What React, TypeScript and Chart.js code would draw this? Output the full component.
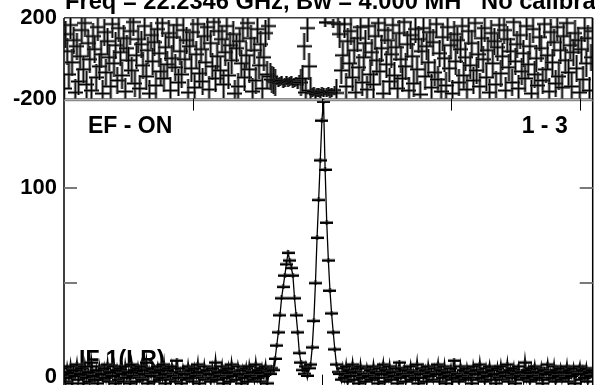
import React, { useEffect, useRef } from 'react';
import { Chart, registerables } from 'chart.js';

Chart.register(...registerables);

const titleText = 'Freq = 22.2346 GHz, Bw = 4.000 MH   No calibra';
const sourceLabel = 'EF - ON';
const scanLabel = '1 - 3';
const ifLabel = 'IF 1(LR)';

const phaseTicks = [-200, 0, 200];
const phaseTickLabels = ['-200', '', '200'];
const ampTicks = [0, 50, 100];
const ampTickLabels = ['0', '', '100'];
const channelTicks = [80, 160, 240, 320];

// amplitude, channels 0..129
const ampNoiseLeft = [
  3, -2, 5, 0, 6, -3, 4, 1, 7, -1, 2, 5, -3, 6, 0, 3, -2, 8, 1, -1,
  4, -3, 6, 2, -1, 5, 0, 7, -2, 3, 1, 6, -3, 4, -1, 5, 2, -2, 6, 0,
  3, -3, 7, 1, 4, -2, 5, 0, 6, -1, 2, 8, -3, 4, 1, 5, -2, 3, 6, -1,
  4, 0, 7, -3, 2, 5, -1, 6, 1, -2, 9, 0, 3, -3, 5, 2, -1, 6, 0, 4,
  -2, 5, 1, 7, -3, 3, 0, 6, -1, 4, 2, -2, 5, 0, 8, -1, 3, 1, 6, -3,
  4, 0, 5, -2, 7, 1, 3, -1, 6, 2, -3, 4, 0, 5, -2, 6, 1, 3, -1, 7,
  0, 4, -2, 5, 1, 6, -3, 3, 2, 5,
];
// channels 130..148
const ampLine1 = [4, 10, 17, 24, 33, 42, 48, 54, 60, 66, 62, 58, 54, 42, 33, 24, 13, 8, 4];
// channels 149..152
const ampGap = [2, 6, 1, 5];
// channels 153..170
const ampLine2 = [7, 16, 30, 50, 74, 94, 115, 136, 146, 110, 82, 62, 46, 34, 24, 15, 7, 3];
// channels 171..328
const ampNoiseRight = [
  2, -1, 5, 0, 6, -2, 4, 1, 7, -1, 3, 5, -3, 6, 0, 2, -2, 5, 1, 4,
  -1, 6, 0, 3, -3, 5, 2, 7, -2, 4, 0, 6, -1, 3, 1, 5, -3, 8, 0, 2,
  5, -2, 4, 1, 6, -1, 3, 0, 7, -3, 2, 5, 0, 4, -2, 6, 1, 3, -1, 5,
  2, 7, -2, 4, 0, 6, -3, 3, 1, 5, -1, 9, 0, 2, -2, 6, 1, 4, -1, 5,
  0, 3, -3, 6, 2, 4, -1, 7, 0, 3, -2, 5, 1, 6, -1, 4, 2, -3, 5, 0,
  6, -1, 3, 1, 7, -2, 4, 0, 5, -3, 2, 6, 1, 3, -1, 8, 0, 4, -2, 5,
  1, 6, -1, 3, 0, 5, -3, 4, 2, 7, -1, 3, 0, 6, -2, 4, 1, 5, -1, 3,
  0, 6, -2, 4, 1, 5, -3, 3, 2, 6, -1, 4, 0, 5, -2, 3, 1, 4,
];

// phase (degrees), channels 0..127
const phaseLeft = [
  -150, 120, 35, -80, 165, -20, 90, -170, 60, -115, 10, 140, -55, 175, -130, 75, -5, -160, 110, 45,
  -95, 155, -40, 20, -175, 130, -70, 85, 5, -140, 170, -25, 65, -110, 150, 30, -85, 100, -165, 50,
  -10, 135, -60, 180, -125, 15, 95, -150, 70, -35, 160, -90, 40, -175, 115, -15, 80, -135, 145, 25,
  -65, 175, -100, 55, -30, 125, -160, 0, 105, -45, 165, -120, 35, -80, 140, -5, 90, -170, 60, -50,
  130, -145, 20, 170, -75, 45, -115, 110, -20, 155, -155, 75, -40, 180, -100, 10, 135, -60, 95, -130,
  30, 160, -85, 65, -10, 120, -175, 50, -140, 85, -25, 150, -95, 15, 175, -55, 100, -165, 40, -110,
  145, -35, 70, -150, 5, 125, -80, 160,
];
// channels 128..148
const phaseLine1 = [-90, -105, -112, -118, -108, -122, -115, -110, -125, -118, -112, -120, -116, -108, -124, -118, -113, -128, -105, -120, -100];
// channels 149..152
const phaseGap = [60, -170, 150, -40];
// channels 153..170
const phaseLine2 = [-160, -172, -165, -178, -170, -168, -175, -166, -172, 178, -170, -163, -176, -168, 175, -158, -172, 170];
// channels 171..328
const phaseRight = [
  120, -60, 15, 170, -140, 85, -25, 135, -95, 40, -170, 100, -45, 155, -120, 5, 75, -155, 160, -80,
  30, -130, 110, -10, 175, -65, 50, -175, 140, -30, 90, -115, 20, 165, -85, 55, -150, 125, -5, -100,
  180, -40, 70, -160, 115, 10, -125, 145, -55, 95, -180, 35, 150, -90, 60, -20, 130, -145, 80, -70,
  170, -105, 25, -165, 105, 0, -135, 155, -50, 65, -175, 120, -15, 90, -120, 45, 160, -85, 5, -155,
  135, -35, 75, -110, 175, -60, 20, -140, 100, -5, 150, -95, 40, -170, 125, -25, 85, -130, 55, 165,
  -75, 10, 140, -160, 95, -45, 35, -120, 180, -15, 70, -150, 115, -65, 25, -100, 160, -30, 60, -175,
  145, -80, 0, -135, 105, 50, -110, 170, -55, 15, -165, 130, -20, 80, -125, 155, -90, 40, -145, 110,
  -10, 175, -70, 65, -140, 30, 125, -50, 90, -170, 45, -105, 150, -25, 100, -160, 5, 135,
];

const amplitude = [...ampNoiseLeft, ...ampLine1, ...ampGap, ...ampLine2, ...ampNoiseRight];
const phase = [...phaseLeft, ...phaseLine1, ...phaseGap, ...phaseLine2, ...phaseRight];

const FONT = '"Liberation Sans", Arial, Helvetica, sans-serif';

function makeCross(w: number, h: number, halo: string, hw: number): HTMLCanvasElement {
  const c = document.createElement('canvas');
  c.width = w;
  c.height = h;
  const g = c.getContext('2d')!;
  const cx = Math.floor(w / 2);
  const cy = Math.floor(h / 2);
  g.fillStyle = halo;
  g.fillRect(0, cy - 1, w, 3);
  g.fillRect(cx - 1, 0, 3, h);
  g.fillStyle = '#000';
  g.fillRect(0, cy, w, hw);
  g.fillRect(cx, 0, 1, h);
  return c;
}

const framePlugin = {
  id: 'framePlugin',
  beforeDatasetsDraw(chart: any) {
    const { ctx, chartArea: a, scales } = chart;
    const yA = scales.yA;
    ctx.save();
    ctx.fillStyle = '#000';
    ctx.font = `bold 23px ${FONT}`;
    ctx.textAlign = 'left';
    ctx.textBaseline = 'alphabetic';
    ctx.fillText(ifLabel, a.left + 15, yA.getPixelForValue(0) - 10);
    ctx.restore();
  },
  afterDatasetsDraw(chart: any) {
    const { ctx, chartArea: a, scales } = chart;
    const yA = scales.yA;
    const x = scales.x;
    ctx.save();
    ctx.strokeStyle = '#000';
    ctx.lineWidth = 1.5;
    ctx.beginPath();
    ctx.moveTo(a.left, a.top);
    ctx.lineTo(a.left, a.bottom);
    ctx.moveTo(a.right, a.top);
    ctx.lineTo(a.right, a.bottom);
    ctx.stroke();
    ctx.strokeStyle = '#8a8a8a';
    ctx.lineWidth = 1.5;
    ctx.beginPath();
    ctx.moveTo(a.left, yA.top + 2);
    ctx.lineTo(a.right, yA.top + 2);
    ctx.stroke();
    ctx.strokeStyle = '#7a7a7a';
    ctx.lineWidth = 2;
    ctx.beginPath();
    for (const v of ampTicks) {
      if (v === 0) continue;
      const py = Math.round(yA.getPixelForValue(v));
      ctx.moveTo(a.left, py);
      ctx.lineTo(a.left + 13, py);
      ctx.moveTo(a.right - 13, py);
      ctx.lineTo(a.right, py);
    }
    ctx.stroke();
    ctx.strokeStyle = '#000';
    ctx.lineWidth = 1;
    ctx.beginPath();
    for (const c of channelTicks) {
      const px = Math.round(x.getPixelForValue(c)) + 0.5;
      ctx.moveTo(px, yA.top);
      ctx.lineTo(px, yA.top + 12);
      ctx.moveTo(px, a.bottom);
      ctx.lineTo(px, a.bottom - 14);
    }
    ctx.stroke();
    ctx.fillStyle = '#000';
    ctx.textBaseline = 'alphabetic';
    ctx.textAlign = 'left';
    ctx.font = `bold 23.7px ${FONT}`;
    ctx.fillText(titleText, a.left + 1, a.top - 9);
    ctx.font = `bold 23px ${FONT}`;
    ctx.fillText(sourceLabel, a.left + 24, yA.top + 34);
    ctx.textAlign = 'right';
    ctx.fillText(scanLabel, a.right - 25, yA.top + 34);
    ctx.restore();
  },
};

export default function App() {
  const ref = useRef<HTMLCanvasElement>(null);
  useEffect(() => {
    if (!ref.current) return;
    const phaseCrossBig = makeCross(15, 27, 'rgba(60,60,60,0.65)', 1);
    const phaseCrossSmall = makeCross(13, 9, 'rgba(40,40,40,0.75)', 1);
    const ampCross = makeCross(13, 5, 'rgba(70,70,70,0.6)', 2);
    const fitAxis = (s: any) => {
      s.width = 64;
      s.paddingTop = 0;
      s.paddingBottom = 0;
    };
    const chart = new Chart(ref.current, {
      type: 'scatter',
      data: {
        datasets: [
          {
            label: 'amplitude',
            data: amplitude.map((v, i) => ({ x: i, y: v })),
            yAxisID: 'yA',
            showLine: true,
            borderColor: '#000',
            borderWidth: 1.3,
            segment: {
              borderWidth: (c: any) => (Math.abs(c.p0.parsed.y) < 12 && Math.abs(c.p1.parsed.y) < 12 ? 2.4 : 1.3),
            },
            pointStyle: ampCross as any,
            pointRadius: 6,
            order: 1,
          },
          {
            label: 'phase',
            data: phase.map((v, i) => ({ x: i, y: v })),
            yAxisID: 'yP',
            showLine: false,
            pointStyle: ((c: any) => (amplitude[c.dataIndex] > 12 ? phaseCrossSmall : phaseCrossBig)) as any,
            pointRadius: 6,
            order: 2,
          },
        ],
      },
      options: {
        responsive: false,
        animation: false,
        events: [],
        layout: { padding: { left: 0, top: 18, right: 3, bottom: 4 } },
        plugins: { legend: { display: false }, tooltip: { enabled: false }, title: { display: false } },
        scales: {
          x: { type: 'linear', display: false, min: 0, max: 328 },
          yA: {
            type: 'linear',
            position: 'left',
            stack: 'panels',
            stackWeight: 288,
            weight: 0,
            min: -6,
            max: 147.5,
            grid: { display: false, drawTicks: false },
            border: { display: false },
            afterBuildTicks: (s: any) => { s.ticks = ampTicks.map((v) => ({ value: v })); },
            afterFit: fitAxis,
            ticks: {
              padding: 7,
              color: '#000',
              font: { family: FONT, size: 22, weight: 'bold' },
              callback: (v: any) => ampTickLabels[ampTicks.indexOf(Number(v))] ?? '',
            },
          },
          yP: {
            type: 'linear',
            position: 'left',
            stack: 'panels',
            stackWeight: 80,
            weight: 1,
            min: -200,
            max: 200,
            grid: {
              display: true,
              drawTicks: false,
              lineWidth: 1.5,
              color: (c: any) => (c.tick && c.tick.value === 200 ? '#3c3c3c' : '#8a8a8a'),
            },
            border: { display: false },
            afterBuildTicks: (s: any) => { s.ticks = phaseTicks.map((v) => ({ value: v })); },
            afterFit: fitAxis,
            ticks: {
              padding: 7,
              color: '#000',
              font: { family: FONT, size: 22, weight: 'bold' },
              callback: (v: any) => phaseTickLabels[phaseTicks.indexOf(Number(v))] ?? '',
            },
          },
        },
      } as any,
      plugins: [framePlugin],
    });
    return () => chart.destroy();
  }, []);
  return (
    <div style={{ position: 'fixed', left: 0, top: 0, width: 595, height: 385, overflow: 'hidden', background: '#fff' }}>
      <canvas ref={ref} width={600} height={396} style={{ display: 'block' }} />
    </div>
  );
}
